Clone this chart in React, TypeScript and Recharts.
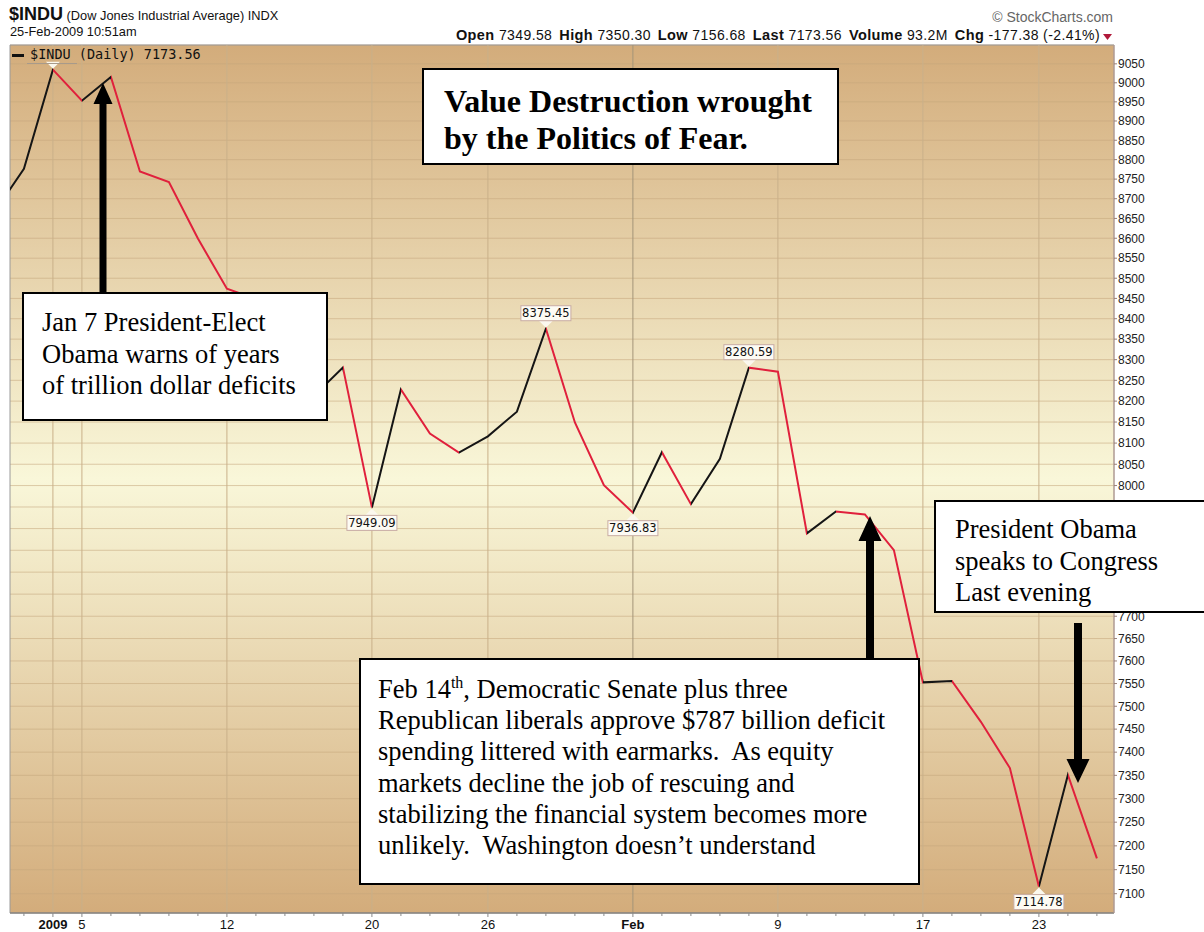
import {
  LineChart,
  Line,
  XAxis,
  YAxis,
  CartesianGrid,
  ReferenceLine,
  ReferenceDot,
  ReferenceArea,
} from 'recharts'

// trading days shown, Dec 30 2008 .. Feb 25 2009
const DATES = [
  'Dec 30', 'Dec 31', 'Jan 2', 'Jan 5', 'Jan 6', 'Jan 7', 'Jan 8', 'Jan 9',
  'Jan 12', 'Jan 13', 'Jan 14', 'Jan 15', 'Jan 16', 'Jan 20', 'Jan 21', 'Jan 22',
  'Jan 23', 'Jan 26', 'Jan 27', 'Jan 28', 'Jan 29', 'Jan 30', 'Feb 2', 'Feb 3',
  'Feb 4', 'Feb 5', 'Feb 6', 'Feb 9', 'Feb 10', 'Feb 11', 'Feb 12', 'Feb 13',
  'Feb 17', 'Feb 18', 'Feb 19', 'Feb 20', 'Feb 23', 'Feb 24', 'Feb 25',
]

const CLOSES = [
  8668.39, 8776.39, 9034.69, 8952.89, 9015.1, 8769.7, 8742.46, 8599.18,
  8473.97, 8448.56, 8200.14, 8212.49, 8281.22, 7949.09, 8228.1, 8122.8,
  8077.56, 8116.03, 8174.73, 8375.45, 8149.01, 8000.86, 7936.83, 8078.36,
  7956.66, 8063.07, 8280.59, 8270.87, 7888.88, 7939.53, 7932.76, 7850.41,
  7552.6, 7555.63, 7465.95, 7365.67, 7114.78, 7350.94, 7173.56,
]

const X_TICK_IDX = [2, 3, 8, 13, 17, 22, 27, 32, 36]
const X_TICK_TEXT = ['2009', '5', '12', '20', '26', 'Feb', '9', '17', '23']
const X_TICK_BOLD = ['2009', 'Feb']

const Y_TICKS = [
  7100, 7150, 7200, 7250, 7300, 7350, 7400, 7450, 7500, 7550, 7600, 7650, 7700,
  7750, 7800, 7850, 7900, 7950, 8000, 8050, 8100, 8150, 8200, 8250, 8300, 8350,
  8400, 8450, 8500, 8550, 8600, 8650, 8700, 8750, 8800, 8850, 8900, 8950, 9000, 9050,
]

// marked highs / lows (index into DATES, where the tag sits)
const MARKED_IDX = [2, 13, 19, 22, 26, 36]
const MARKED_SIDE = ['top', 'bottom', 'top', 'bottom', 'top', 'bottom']
const MARKED_SHOW = [false, true, true, true, true, true]

const QUOTE_LABELS = ['Open', 'High', 'Low', 'Last', 'Volume', 'Chg']
const QUOTE_VALUES = ['7349.58', '7350.30', '7156.68', '7173.56', '93.2M', '-177.38 (-2.41%)']

const UP = '#151515'
const DOWN = '#E0203C'
const FONT = "'Liberation Sans', Arial, sans-serif"
const NARROW = "'Liberation Sans Narrow', 'Arial Narrow', Arial, sans-serif"
const SERIF = "'Liberation Serif', 'Times New Roman', serif"

const data = CLOSES.map((close, i) => ({ idx: i, date: DATES[i], close }))
const allTicks = DATES.map((_, i) => i).filter((i) => i >= 1)
const last = CLOSES.length - 1

function XTick(props: any) {
  const { x, y, payload } = props
  const k = X_TICK_IDX.indexOf(payload.value)
  const label = k >= 0 ? X_TICK_TEXT[k] : null
  return (
    <g>
      <line x1={x} x2={x} y1={y} y2={y + (label ? 4 : 3)} stroke="#8a8a8a" />
      {label && (
        <text
          x={x}
          y={y + 16}
          textAnchor="middle"
          fontFamily={NARROW}
          fontSize={13}
          fontWeight={X_TICK_BOLD.includes(label) ? 'bold' : 'normal'}
          fill="#111"
        >
          {label}
        </text>
      )}
    </g>
  )
}

function Tag(props: any) {
  const { cx, cy, side, text } = props
  const w = 50
  const h = 15
  const top = side === 'top'
  const boxY = top ? cy - 8 - h : cy + 8
  const tri = top
    ? `${cx - 7},${cy - 8} ${cx + 7},${cy - 8} ${cx},${cy - 1}`
    : `${cx - 7},${cy + 8} ${cx + 7},${cy + 8} ${cx},${cy + 1}`
  return (
    <g>
      <polygon points={tri} fill="#fbf8ee" />
      {text && (
        <>
          <rect x={cx - w / 2} y={boxY} width={w} height={h} fill="#fdfbf4" stroke="#c8aca4" />
          <text
            x={cx}
            y={boxY + 11.5}
            textAnchor="middle"
            fontFamily="'DejaVu Sans', Verdana, sans-serif"
            fontSize={11.5}
            fill="#111"
          >
            {text}
          </text>
        </>
      )}
    </g>
  )
}

function Arrow({ x, tipY, tailY, head, headLen, shaft }: any) {
  const dir = tailY > tipY ? 1 : -1
  const baseY = tipY + dir * headLen
  const pts = [
    [x, tipY],
    [x + head / 2, baseY],
    [x + shaft / 2, baseY],
    [x + shaft / 2, tailY],
    [x - shaft / 2, tailY],
    [x - shaft / 2, baseY],
    [x - head / 2, baseY],
  ]
  return <polygon points={pts.map((p) => p.join(',')).join(' ')} fill="#000" />
}

const boxStyle = (left: number, top: number, width: number, height: number, pad: string) => ({
  position: 'absolute' as const,
  left,
  top,
  width,
  height,
  boxSizing: 'border-box' as const,
  border: '2px solid #000',
  background: '#fff',
  padding: pad,
  fontFamily: SERIF,
  color: '#000',
  overflow: 'hidden' as const,
  whiteSpace: 'nowrap' as const,
})

export default function App() {
  // stroke colour per segment: black when the day closed up, red when down
  const stops: any[] = []
  for (let i = 0; i < last; i++) {
    const c = CLOSES[i + 1] >= CLOSES[i] ? UP : DOWN
    stops.push(<stop key={`a${i}`} offset={i / last} stopColor={c} />)
    stops.push(<stop key={`b${i}`} offset={(i + 1) / last} stopColor={c} />)
  }

  return (
    <div
      style={{
        position: 'absolute',
        left: 0,
        top: 0,
        width: 1204,
        height: 932,
        background: '#fff',
        fontFamily: FONT,
      }}
    >
      {/* header */}
      <div style={{ position: 'absolute', left: 9, top: 4, fontSize: 12.8, color: '#111', whiteSpace: 'nowrap' }}>
        <span style={{ fontFamily: NARROW, fontWeight: 'bold', fontSize: 18 }}>$INDU</span>{' '}
        <span>(Dow Jones Industrial Average) INDX</span>
      </div>
      <div style={{ position: 'absolute', left: 10, top: 24, fontSize: 12.8, color: '#111' }}>
        25-Feb-2009 10:51am
      </div>
      <div
        style={{
          position: 'absolute',
          right: 1204 - 1113,
          top: 9,
          fontFamily: NARROW,
          fontSize: 14,
          color: '#666',
        }}
      >
        © StockCharts.com
      </div>
      <div
        style={{
          position: 'absolute',
          right: 1204 - 1100,
          top: 27,
          fontSize: 14,
          letterSpacing: 0.4,
          color: '#111',
          whiteSpace: 'nowrap',
        }}
      >
        {QUOTE_LABELS.map((l, i) => (
          <span key={l} style={{ marginLeft: i ? 7 : 0 }}>
            <b style={{ fontSize: 14.5 }}>{l}</b> {QUOTE_VALUES[i]}
          </span>
        ))}
      </div>
      <svg style={{ position: 'absolute', left: 1103, top: 34 }} width={10} height={8}>
        <polygon points="0,0 9,0 4.5,6" fill="#b0183a" />
      </svg>

      <div style={{ position: 'absolute', left: 0, top: 0 }}>
        <LineChart width={1204} height={932} data={data} margin={{ top: 45, right: 0, left: 10, bottom: 0 }}>
          <defs>
            <linearGradient id="bgFade" x1="0" y1="0" x2="0" y2="1">
              <stop offset="0%" stopColor="#D3AC7B" />
              <stop offset="50%" stopColor="#F9F7D9" />
              <stop offset="100%" stopColor="#D3AC7B" />
            </linearGradient>
            <linearGradient id="dirStroke" x1="0" y1="0" x2="1" y2="0">
              {stops}
            </linearGradient>
          </defs>
          <CartesianGrid vertical={false} fill="url(#bgFade)" stroke="#c4a57c" strokeOpacity={0.55} />
          {X_TICK_IDX.map((i, k) => (
            <ReferenceLine
              key={i}
              x={i}
              stroke={X_TICK_TEXT[k] === 'Feb' ? '#a39478' : '#c9b08a'}
              strokeWidth={1}
            />
          ))}
          <XAxis
            dataKey="idx"
            type="number"
            domain={[0.52, 38.59]}
            allowDataOverflow
            ticks={allTicks}
            interval={0}
            height={19}
            tickLine={false}
            tickSize={0}
            tickMargin={0}
            axisLine={{ stroke: '#777' }}
            tick={(p: any) => <XTick {...p} />}
          />
          <YAxis
            orientation="right"
            scale="log"
            type="number"
            domain={[7060, 9100]}
            allowDataOverflow
            ticks={Y_TICKS}
            interval={0}
            width={90}
            tickSize={3}
            tickMargin={1}
            axisLine={{ stroke: '#b89a90' }}
            tickLine={{ stroke: '#9a8078' }}
            tick={{ fontSize: 12, fill: '#222', fontFamily: FONT }}
          />
          <ReferenceArea
            x1={0.52}
            x2={38.59}
            y1={7060}
            y2={9100}
            fill="none"
            stroke="#9a9a9a"
            ifOverflow="visible"
          />
          <Line
            type="linear"
            dataKey="close"
            stroke="url(#dirStroke)"
            strokeWidth={2}
            dot={false}
            activeDot={false}
            isAnimationActive={false}
          />
          {MARKED_IDX.map((i, k) => (
            <ReferenceDot
              key={i}
              x={i}
              y={CLOSES[i]}
              r={3}
              shape={(p: any) => (
                <Tag
                  cx={p.cx}
                  cy={p.cy}
                  side={MARKED_SIDE[k]}
                  text={MARKED_SHOW[k] ? CLOSES[i].toFixed(2) : null}
                />
              )}
            />
          ))}
        </LineChart>
      </div>

      {/* legend inside plot */}
      <div
        style={{
          position: 'absolute',
          left: 12,
          top: 46,
          fontFamily: "'DejaVu Sans Mono', monospace",
          fontSize: 13.5,
          color: '#111',
          whiteSpace: 'nowrap',
        }}
      >
        <span style={{ display: 'inline-block', width: 12, height: 3, background: '#111', verticalAlign: 'middle', marginRight: 6 }} />
        $INDU (Daily) 7173.56
      </div>
      <div style={{ position: 'absolute', left: 27, top: 63, width: 50, height: 1, background: '#a89a8a' }} />

      {/* arrows */}
      <svg style={{ position: 'absolute', left: 0, top: 0 }} width={1204} height={932}>
        <Arrow x={103} tipY={83} tailY={300} head={19} headLen={21} shaft={7} />
        <Arrow x={870} tipY={516} tailY={665} head={23} headLen={25} shaft={8} />
        <Arrow x={1078} tipY={783} tailY={623} head={23} headLen={24} shaft={8} />
      </svg>

      {/* annotation boxes */}
      <div style={{ ...boxStyle(422, 68, 417, 97, '13px 0 0 20px'), fontSize: 32, fontWeight: 'bold', lineHeight: '37px' }}>
        Value Destruction wrought
        <br />
        by the Politics of Fear.
      </div>
      <div style={{ ...boxStyle(22, 292, 306, 129, '13px 0 0 18px'), fontSize: 26.5, lineHeight: '31.5px' }}>
        Jan 7 President-Elect
        <br />
        Obama warns of years
        <br />
        of trillion dollar deficits
      </div>
      <div style={{ ...boxStyle(934, 500, 280, 113, '12px 0 0 19px'), fontSize: 26.5, lineHeight: '31.5px' }}>
        President Obama
        <br />
        speaks to Congress
        <br />
        Last evening
      </div>
      <div style={{ ...boxStyle(359, 658, 561, 227, '14px 0 0 17px'), fontSize: 26.5, lineHeight: '31.2px' }}>
        Feb 14<sup style={{ fontSize: 16, lineHeight: 0 }}>th</sup>, Democratic Senate plus three
        <br />
        Republican liberals approve $787 billion deficit
        <br />
        spending littered with earmarks.&nbsp; As equity
        <br />
        markets decline the job of rescuing and
        <br />
        stabilizing the financial system becomes more
        <br />
        unlikely.&nbsp; Washington doesn’t understand
      </div>
    </div>
  )
}
